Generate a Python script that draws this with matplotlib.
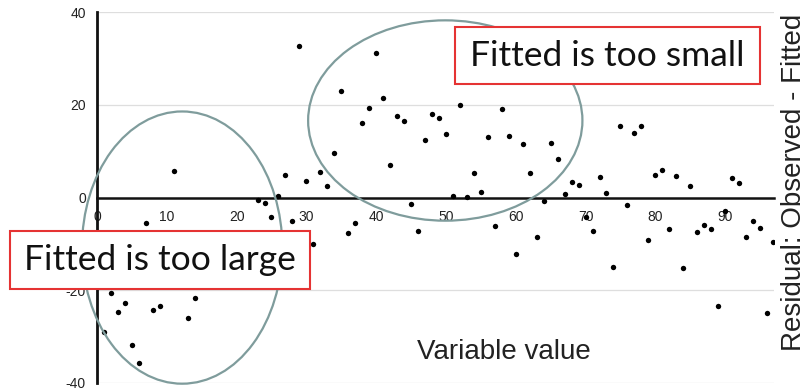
import matplotlib
matplotlib.use("Agg")
import matplotlib.pyplot as plt
from matplotlib.patches import Ellipse, Rectangle

# ---- data ----
x_vals = [1, 2, 3, 4, 5, 6, 7, 8, 9, 11, 13, 14,
          23, 24, 25, 26, 27, 28, 29, 30, 31, 32, 33, 34, 35, 36, 37, 38, 39, 40,
          41, 42, 43, 44, 45, 46, 47, 48, 49, 50, 51, 52, 53, 54, 55, 56, 57, 58,
          59, 60, 61, 62, 63, 64, 65, 66, 67, 68, 69, 70, 71, 72, 73, 74, 75, 76,
          77, 78, 79, 80, 81, 82, 83, 84, 85, 86, 87, 88, 89, 90, 91, 92, 93, 94,
          95, 96, 96.9]
residuals = [-28.9, -20.6, -24.6, -22.8, -31.7, -35.6, -5.5, -24.2, -23.5, 5.8, -26.0, -21.6,
             -0.5, -1.1, -4.2, 0.3, 4.75, -5.0, 32.7, 3.6, -10.0, 5.5, 2.4, 9.7, 22.9, -7.6, -5.4, 16.1, 19.4, 31.2,
             21.5, 7.0, 17.6, 16.5, -1.5, -7.2, 12.3, 17.9, 17.1, 13.7, 0.4, 20.0, 0.15, 5.3, 1.1, 13.0, -6.2, 19.0,
             13.2, -12.2, 11.5, 5.2, -8.6, -0.65, 11.7, 8.4, 0.7, 3.3, 2.6, -4.3, -7.3, 4.5, 0.9, -15.0, 15.4, -1.6,
             14.0, 15.5, -9.1, 4.75, 6.0, -6.8, 4.6, -15.2, 2.4, -7.5, -6.0, -6.8, -23.3, -3.0, 4.3, 3.2, -8.6, -5.1,
             -6.5, -24.8, -9.6]
x_ticks = [0, 10, 20, 30, 40, 50, 60, 70, 80, 90]
y_ticks = [-40, -20, 0, 20, 40]
x_label = "Variable value"
y_label = "Residual: Observed - Fitted"
note_large = "Fitted is too large"
note_small = "Fitted is too small"

W, H = 809, 391
fig = plt.figure(figsize=(W / 100, H / 100), dpi=100)
ax = fig.add_axes([97 / W, 1 - 383 / H, 677 / W, 371 / H])
ax.set_xlim(0, 97)
ax.set_ylim(-40, 40)

for s in ["top", "right"]:
    ax.spines[s].set_visible(False)
ax.spines["left"].set_linewidth(2.0)
ax.spines["left"].set_color("#111111")
ax.spines["bottom"].set_position(("data", 0))
ax.spines["bottom"].set_linewidth(1.8)
ax.spines["bottom"].set_color("#111111")

for yv in [40, 20, -20, -40]:
    ax.axhline(yv, color="#dedede", lw=0.9, zorder=0)

ax.set_xticks(x_ticks)
ax.set_yticks(y_ticks)
ax.set_yticklabels([str(v) for v in y_ticks])
ax.tick_params(axis="both", length=0, labelsize=10, labelcolor="#222222")
ax.tick_params(axis="x", pad=9)
ax.tick_params(axis="y", pad=8)
for lab in ax.get_xticklabels() + ax.get_yticklabels():
    lab.set_fontfamily("Liberation Sans")

ax.scatter(x_vals, residuals, s=15, color="black", zorder=3, linewidths=0, clip_on=True)

ell_col = "#7f9c9c"
ax.add_patch(Ellipse((12.2, -10.8), 28.7, 58.7, fill=False, ec=ell_col, lw=1.6, zorder=4, clip_on=False))
ax.add_patch(Ellipse((49.9, 16.6), 39.3, 43.2, fill=False, ec=ell_col, lw=1.6, zorder=4, clip_on=False))

red = "#e53333"
for (x0, y0, x1, y1, txt) in [(10, 231, 310, 289, note_large), (455, 27, 760, 84, note_small)]:
    r = Rectangle((x0 / W, 1 - y1 / H), (x1 - x0) / W, (y1 - y0) / H, transform=fig.transFigure,
                  facecolor="white", edgecolor=red, lw=1.5, zorder=10)
    fig.add_artist(r)
    fig.text((x0 + x1) / 2 / W, 1 - (y0 + y1) / 2 / H, txt, ha="center", va="center",
             fontsize=25.5, family="Lato", color="#111111", zorder=11)

fig.text(504 / W, 1 - 352 / H, x_label, ha="center", va="center", fontsize=20,
         family="Liberation Sans", color="#222222")
fig.text(794 / W, 1 - 182 / H, y_label, ha="center", va="center", rotation=90, fontsize=20,
         family="Liberation Sans", color="#222222")

fig.savefig("out.png", dpi=100)
